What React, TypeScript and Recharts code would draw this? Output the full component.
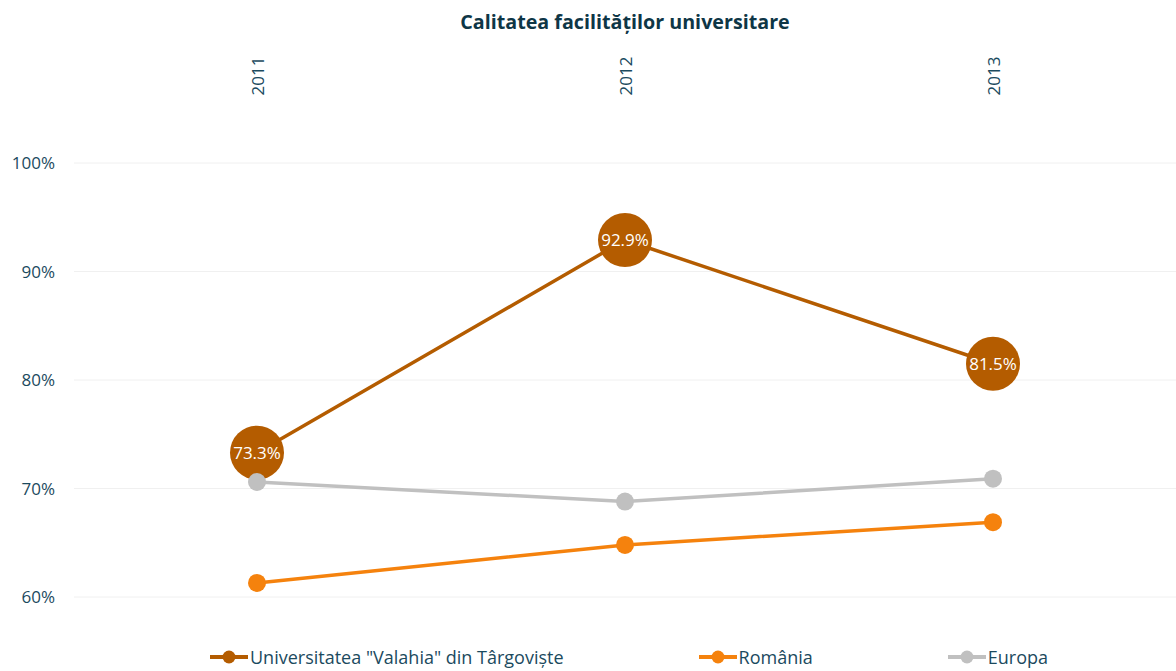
import { CartesianGrid, LabelList, Line, LineChart, XAxis, YAxis } from "recharts";

const YEARS = ["2011", "2012", "2013"];
const VALAHIA = [73.3, 92.9, 81.5];
const ROMANIA = [61.3, 64.8, 66.9];
const EUROPA = [70.6, 68.8, 70.9];
const Y_TICKS = [60, 70, 80, 90, 100];

const TEXT = "#1B4A5E";
const FONT = "'Open Sans', sans-serif";

const SERIES = [
  { key: "valahia", name: 'Universitatea "Valahia" din Târgoviște', color: "#B45C00" },
  { key: "romania", name: "România", color: "#F5820D" },
  { key: "europa", name: "Europa", color: "#C0C0C0" },
];

const data = YEARS.map((year, i) => ({
  year,
  valahia: VALAHIA[i],
  romania: ROMANIA[i],
  europa: EUROPA[i],
}));

function YearTick({ x, payload }: any) {
  return (
    <text
      x={x}
      y={76}
      transform={`rotate(-90, ${x}, 76)`}
      textAnchor="middle"
      dominantBaseline="central"
      fill={TEXT}
      fontSize={17}
      fontFamily={FONT}
    >
      {payload.value}
    </text>
  );
}

function Legend() {
  return (
    <div
      style={{
        position: "absolute",
        top: 645,
        left: 0,
        width: 1258,
        display: "flex",
        justifyContent: "center",
        gap: 135,
        fontFamily: FONT,
        fontSize: 18,
        color: TEXT,
      }}
    >
      {SERIES.map((s) => (
        <div key={s.key} style={{ display: "flex", alignItems: "center", height: 24 }}>
          <svg width={38} height={14} style={{ marginRight: 2 }}>
            <line x1={0} y1={7} x2={38} y2={7} stroke={s.color} strokeWidth={4} />
            <circle cx={19} cy={7} r={6.5} fill={s.color} />
          </svg>
          <span>{s.name}</span>
        </div>
      ))}
    </div>
  );
}

export default function App() {
  return (
    <div style={{ position: "absolute", left: 0, top: 0, width: 1176, height: 671, background: "#fff" }}>
      <div
        style={{
          position: "absolute",
          top: 8,
          left: 74,
          width: 1102,
          textAlign: "center",
          fontFamily: FONT,
          fontWeight: 700,
          fontSize: 19.7,
          color: "#0E3646",
        }}
      >
        Calitatea facilităților universitare
      </div>
      <LineChart width={1176} height={620} data={data} margin={{ top: 0, right: 0, bottom: 23, left: 0 }}>
        <CartesianGrid horizontal vertical={false} stroke="#F0F0F0" />
        <XAxis
          dataKey="year"
          orientation="top"
          height={163}
          axisLine={false}
          tickLine={false}
          padding={{ left: 183, right: 183 }}
          tick={<YearTick />}
        />
        <YAxis
          domain={[60, 100]}
          ticks={Y_TICKS}
          width={74}
          axisLine={false}
          tickLine={false}
          tickSize={0}
          tickMargin={19}
          tickFormatter={(v: number) => `${v}%`}
          tick={{ fill: TEXT, fontSize: 17, fontFamily: FONT }}
        />
        <Line
          dataKey="valahia"
          stroke={SERIES[0].color}
          strokeWidth={3.5}
          dot={{ r: 27, fill: SERIES[0].color, stroke: "none" }}
          isAnimationActive={false}
        >
          <LabelList
            dataKey="valahia"
            position="center"
            formatter={(v: number) => `${v.toFixed(1)}%`}
            fill="#fff"
            fontSize={17}
            fontFamily={FONT}
          />
        </Line>
        <Line
          dataKey="romania"
          stroke={SERIES[1].color}
          strokeWidth={3.5}
          dot={{ r: 9, fill: SERIES[1].color, stroke: "none" }}
          isAnimationActive={false}
        />
        <Line
          dataKey="europa"
          stroke={SERIES[2].color}
          strokeWidth={3.5}
          dot={{ r: 9, fill: SERIES[2].color, stroke: "none" }}
          isAnimationActive={false}
        />
      </LineChart>
      <Legend />
    </div>
  );
}
